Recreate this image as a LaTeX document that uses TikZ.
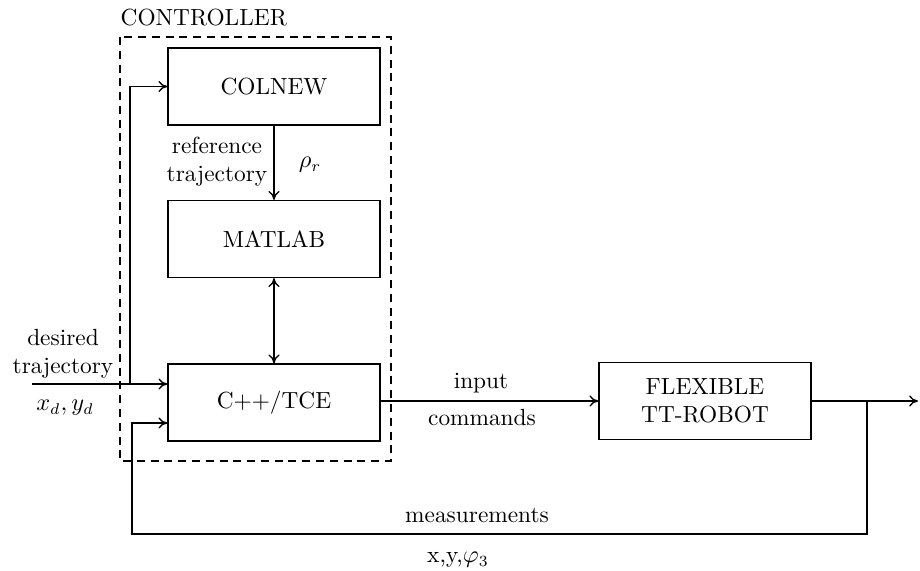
\documentclass[tikz,border=0pt]{standalone}
\usetikzlibrary{arrows.meta}
\begin{document}
\begin{tikzpicture}[x=0.45pt,y=-0.45pt,
  line width=0.6pt,
  every node/.style={font=\fontsize{10.5pt}{12.6pt}\selectfont},
  blk/.style={draw,rectangle,minimum width=95.4pt,minimum height=34.6pt,inner sep=0pt,align=center},
  arr/.style={-{To[length=4pt,width=5pt]}},
  darr/.style={{To[length=4pt,width=5pt]}-{To[length=4pt,width=5pt]}},
  lbl/.style={inner sep=0pt,align=center}]
\useasboundingbox (0,0) rectangle (920,570);
% dashed controller box
\draw[dash pattern=on 3.6pt off 2.6pt] (120,37) rectangle (391,461);
\node[lbl,anchor=west] (ctl) at (120,18) {CONTROLLER};
% blocks
\node[blk] (colnew) at (274,86.5) {COLNEW};
\node[blk] (matlab) at (274,239) {MATLAB};
\node[blk] (cpp) at (274,402.5) {C++/TCE};
\node[blk] (robot) at (705,401) {FLEXIBLE\\TT-ROBOT};
% coordinates
\coordinate (din) at (32,384);
\coordinate (j1) at (130,384);
\coordinate (out) at (918,401);
\coordinate (b1) at (867,401);
\coordinate (b2) at (867,534);
\coordinate (b3) at (132,534);
\coordinate (b4) at (132,423);
% connectors
\draw[arr] (colnew.south) -- (matlab.north);
\draw[darr] (matlab.south) -- (cpp.north);
\draw[arr] (din) -- (din -| cpp.west);
\draw[arr] (j1) |- (colnew.west);
\draw[arr] (cpp.east |- robot.west) -- (robot.west);
\draw[arr] (robot.east) -- (out);
\draw[arr] (b1) -- (b2) -- (b3) -- (b4) -- (b4 -| cpp.west);
% labels
\node[lbl] (reflbl) at (217,162) {reference\\trajectory};
\node[lbl] (rho) at (310,165) {$\rho_r$};
\node[lbl] (deslbl) at (63,354) {desired\\trajectory};
\node[lbl] (xdyd) at (65,408) {$x_d,y_d$};
\node[lbl] (inp) at (481,383) {input};
\node[lbl] (cmd) at (482,418) {commands};
\node[lbl] (meas) at (477,515) {measurements};
\node[lbl] (xyphi) at (458,560) {x,y,$\varphi_3$};
\end{tikzpicture}
\end{document}
